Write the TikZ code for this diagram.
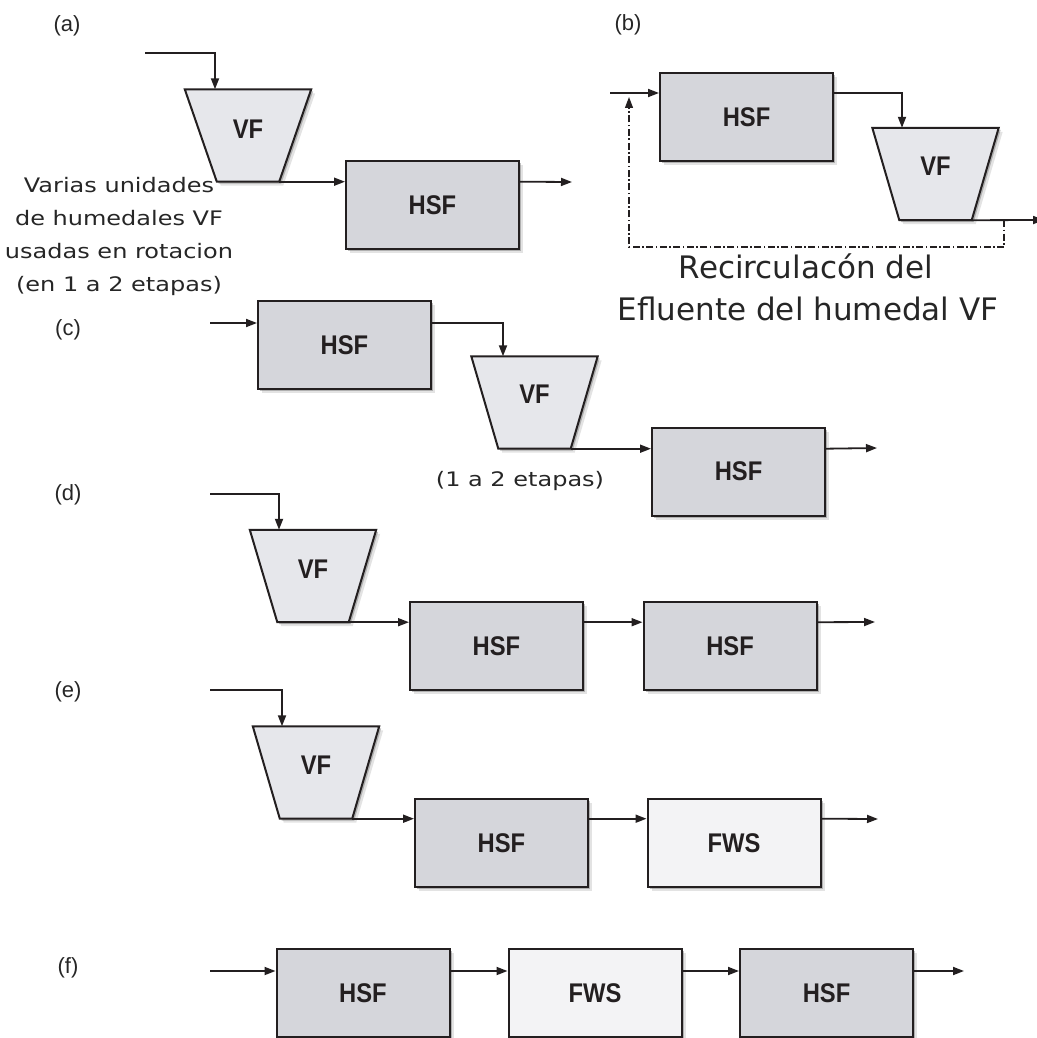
\documentclass[tikz,border=0pt]{standalone}
\usepackage{fontspec}
\setmainfont{Liberation Sans}
\newfontfamily\notefont[FakeStretch=1.2]{DejaVu Sans}
\newfontfamily\capfont{DejaVu Sans}
\newfontfamily\boxfont[FakeStretch=0.88]{Liberation Sans}
\usetikzlibrary{arrows.meta,shadows,backgrounds}
\definecolor{ink}{HTML}{231F20}
\definecolor{hsfcol}{HTML}{D5D6DB}
\definecolor{vfcol}{HTML}{E6E7EB}
\definecolor{fwscol}{HTML}{F3F3F5}
\definecolor{labcol}{HTML}{262626}
\tikzset{
  softshadow/.style={drop shadow={shadow xshift=2pt,shadow yshift=-2pt,opacity=.35,fill=black!70},
                     drop shadow={shadow xshift=4pt,shadow yshift=-4pt,opacity=.18,fill=black!60}},
  unitbox/.style={draw=ink,line width=2pt,minimum width=173pt,minimum height=88pt,inner sep=0pt,
                  font=\boxfont\bfseries\fontsize{27}{27}\selectfont,text=ink,softshadow},
  hsf/.style={unitbox,fill=hsfcol},
  fws/.style={unitbox,fill=fwscol},
  vftext/.style={font=\boxfont\bfseries\fontsize{27}{27}\selectfont,text=ink,inner sep=0pt},
  vfborder/.style={draw=ink,line width=2pt,fill=vfcol,line join=miter,softshadow},
  arr/.style={draw=ink,line width=1.8pt,-{Triangle[length=11pt,width=8pt]}},
  rec/.style={arr,line width=1.2pt,dash pattern=on 7pt off 2.5pt on 1.5pt off 2.5pt},
  panel/.style={font=\fontsize{22}{22}\selectfont,text=labcol},
  note/.style={font=\notefont\fontsize{20}{33}\selectfont,text=labcol,align=center},
  capt/.style={font=\capfont\fontsize{31}{31}\selectfont,text=labcol},
}
% #1 name, #2 cx, #3 cy, #4 bottom inset, #5 text raise
\newcommand\vfunit[5]{%
  \node[minimum width=126pt,minimum height=92pt,inner sep=0pt] (#1) at (#2,#3) {};
  \begin{scope}[on background layer]
    \path[vfborder] (#1.north west) -- (#1.north east) -- ([xshift=-#4pt]#1.south east)
      -- ([xshift=#4pt]#1.south west) -- cycle;
  \end{scope}
  \node[vftext] (#1-t) at ([yshift=#5pt]#1.center) {VF};
}
\begin{document}
\begin{tikzpicture}[x=1pt,y=-1pt]
\useasboundingbox (0,0) rectangle (1036,1038);

% ---------- (a)
\node[panel] (la) at (67,26) {(a)};
\vfunit{vfa}{248}{135.5}{32}{6}
\node[hsf] (hsfa) at (432.5,205) {HSF};
\coordinate (ina) at (145,53);
\coordinate (outa) at (572,182);
\draw[arr] (ina) -| ([xshift=-33pt]vfa.north);
\draw[arr] ([xshift=-32pt]vfa.south east) -- (hsfa.west |- vfa.south);
\draw[arr] (hsfa.east |- vfa.south) -- (outa);
\node[note] (nota) at (119,236) {Varias unidades\\de humedales VF\\usadas en rotacion\\(en 1 a 2 etapas)};

% ---------- (b)
\node[panel] (lb) at (628,25) {(b)};
\node[hsf] (hsfb) at (746.5,117) {HSF};
\vfunit{vfb}{935.5}{174}{27}{8}
\coordinate (inb) at (610,93);
\coordinate (outb) at (1044,220);
\coordinate (recb) at (1004,220);
\coordinate (recl) at (629,247);
\coordinate (rect) at (629,97);
\draw[arr] (inb) -- (inb -| hsfb.west);
\draw[arr] (hsfb.east |- inb) -| ([xshift=-33.5pt]vfb.north);
\draw[arr] ([xshift=-27pt]vfb.south east) -- (outb);
\draw[rec] (recb) |- (recl) -- (rect);
\node[capt,anchor=base] (capb1) at (806,278) {Recirculacón del};
\node[capt,anchor=base] (capb2) at (808,320) {Efluente del humedal VF};

% ---------- (c)
\node[panel] (lc) at (68,330) {(c)};
\node[hsf] (hsfc1) at (344.5,345) {HSF};
\vfunit{vfc}{534.5}{402.5}{27}{8}
\node[hsf] (hsfc2) at (738.5,471.5) {HSF};
\coordinate (inc) at (210,323);
\coordinate (outc) at (877,448);
\draw[arr] (inc) -- (inc -| hsfc1.west);
\draw[arr] (hsfc1.east |- inc) -| ([xshift=-31.5pt]vfc.north);
\draw[arr] ([xshift=-27pt]vfc.south east) -- (hsfc2.west |- vfc.south);
\draw[arr] (hsfc2.east |- vfc.south) -- (outc);
\node[note] (notc) at (520,481) {(1 a 2 etapas)};

% ---------- (d)
\node[panel] (ld) at (68,495) {(d)};
\vfunit{vfd}{313}{576}{27.5}{7}
\node[hsf] (hsfd1) at (496.5,646) {HSF};
\node[hsf] (hsfd2) at (730,646) {HSF};
\coordinate (ind) at (210,494);
\coordinate (outd) at (875,622);
\draw[arr] (ind) -| ([xshift=-34pt]vfd.north);
\draw[arr] ([xshift=-27.5pt]vfd.south east) -- (hsfd1.west |- vfd.south);
\draw[arr] (hsfd1.east |- vfd.south) -- (hsfd2.west |- vfd.south);
\draw[arr] (hsfd2.east |- vfd.south) -- (outd);

% ---------- (e)
\node[panel] (le) at (68,692) {(e)};
\vfunit{vfe}{316}{772.5}{27}{7}
\node[hsf] (hsfe) at (501.5,843) {HSF};
\node[fws] (fwse) at (734,843) {FWS};
\coordinate (ine) at (210,690);
\coordinate (oute) at (878,819);
\draw[arr] (ine) -| ([xshift=-34pt]vfe.north);
\draw[arr] ([xshift=-27pt]vfe.south east) -- (hsfe.west |- vfe.south);
\draw[arr] (hsfe.east |- vfe.south) -- (fwse.west |- vfe.south);
\draw[arr] (fwse.east |- vfe.south) -- (oute);

% ---------- (f)
\node[panel] (lf) at (68,968) {(f)};
\node[hsf] (hsff1) at (363,993) {HSF};
\node[fws] (fwsf) at (595,993) {FWS};
\node[hsf] (hsff3) at (826.5,993) {HSF};
\coordinate (inf) at (210,971);
\coordinate (outf) at (964,971);
\draw[arr] (inf) -- (inf -| hsff1.west);
\draw[arr] (hsff1.east |- inf) -- (fwsf.west |- inf);
\draw[arr] (fwsf.east |- inf) -- (hsff3.west |- inf);
\draw[arr] (hsff3.east |- inf) -- (outf);
\end{tikzpicture}
\end{document}
